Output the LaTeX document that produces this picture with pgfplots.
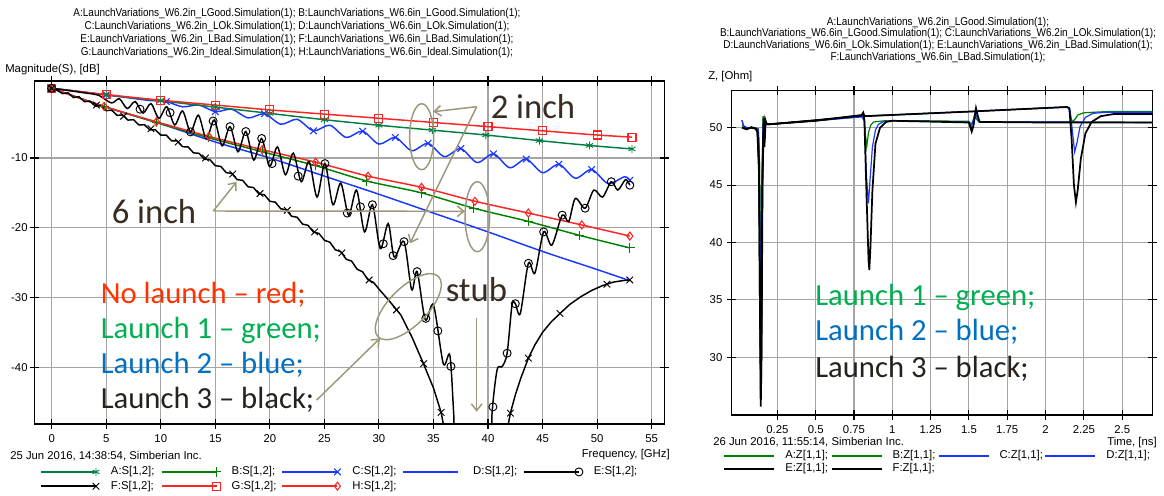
\documentclass[border=0pt]{standalone}
\usepackage{graphicx}
\usepackage{pgfplots}
\pgfplotsset{compat=1.18}
\usepackage{fontspec}
\setmainfont{Liberation Sans}
\newfontfamily\calib{Carlito}
\usetikzlibrary{arrows.meta}
\definecolor{cA}{RGB}{0,128,64}
\definecolor{cB}{RGB}{0,128,0}
\definecolor{cBlue}{RGB}{25,55,255}
\definecolor{cRed}{RGB}{255,35,35}
\definecolor{annot}{RGB}{157,151,122}
\definecolor{txtred}{RGB}{255,51,0}
\definecolor{txtgreen}{RGB}{0,176,80}
\definecolor{txtblue}{RGB}{0,112,192}
\definecolor{txtblack}{RGB}{38,33,28}
\definecolor{txtdark}{RGB}{55,45,35}
\definecolor{gridc}{RGB}{165,165,165}
\newcommand\sm{\fontsize{8.5}{10}\selectfont}
\newcommand\ttl[1]{\sm\scalebox{0.88}[1]{#1}}
\newcommand\annbig{\calib\fontsize{26}{30}\selectfont}
\newcommand\lau{\calib\fontsize{23}{27}\selectfont}
\begin{document}
\begin{tikzpicture}
\useasboundingbox (0,0) rectangle (873pt,-372pt);
% ---------------- left chart ----------------
\begin{axis}[
  at={(25.725pt,-318pt)}, anchor=south west,
  scale only axis, width=472.5pt, height=257.25pt,
  xmin=-1.595, xmax=56.16, ymin=-48.16, ymax=1.05,
  xtick={0,5,10,15,20,25,30,35,40,45,50,55},
  xticklabels={0,5,10,15,20,25,30,35,40,45,50,55},
  ytick={-40,-30,-20,-10}, yticklabels={-40,-30,-20,-10},
  grid=major, major grid style={gridc, line width=0.8pt},
  axis line style={black, line width=0.9pt},
  tick style={black, line width=0.8pt}, tick align=center, major tick length=7pt,
  tick label style={font=\sm},
  xticklabel style={yshift=-1pt},
  yticklabel style={xshift=2pt},
  legend columns=5,
  legend style={at={(axis description cs:0.009,-0.1224)}, anchor=north west, draw=none, fill=none,
     inner sep=0pt, font=\sm, row sep=2.2pt, column sep=0pt,
     nodes={inner sep=0pt, text width=37.5pt, text height=6.5pt, text depth=2pt, anchor=west, align=left}},
  legend image code/.code={\path[draw=none,fill=none] (0pt,-2pt) rectangle (52.5pt,2pt); \draw[#1,mark=none] (0pt,0pt) -- (41.25pt,0pt); \draw[#1] plot coordinates {(41.25pt,0pt)};},
]
\addlegendimage{cA, line width=1.1pt, mark=asterisk, mark size=3pt, mark options={solid,line width=0.7pt}}
\addlegendentry{A:S[1,2];}
\addlegendimage{cB, line width=1.1pt, mark=+, mark size=3.5pt, mark options={solid,line width=0.7pt}}
\addlegendentry{B:S[1,2];}
\addlegendimage{cBlue, line width=1.1pt, mark=x, mark size=3.5pt, mark options={solid,line width=0.8pt}}
\addlegendentry{C:S[1,2];}
\addlegendimage{cBlue, line width=1.1pt}
\addlegendentry{D:S[1,2];}
\addlegendimage{black, line width=1.1pt, mark=o, mark size=3pt, mark options={solid,line width=0.7pt}}
\addlegendentry{E:S[1,2];}
\addlegendimage{black, line width=1.1pt, mark=x, mark size=3.5pt, mark options={solid,line width=0.7pt}}
\addlegendentry{F:S[1,2];}
\addlegendimage{cRed, line width=1.1pt, mark=square, mark size=3pt, mark options={solid,line width=0.8pt}}
\addlegendentry{G:S[1,2];}
\addlegendimage{cRed, line width=1.1pt, mark=diamond, mark size=3pt, mark options={solid,line width=0.8pt}}
\addlegendentry{H:S[1,2];}
% C : 2 inch, launch ok (blue, wavy)
\addplot[cBlue, line width=1.1pt, smooth, forget plot] coordinates {
(0,0) (2.5,-0.45) (5,-0.95) (7.5,-1.45) (9,-1.75) (10.5,-1.9) (12,-2.65) (13.5,-2.4) (15,-3.35)
(16.5,-3.0) (18,-4.25) (19.5,-3.65) (21,-5.15) (22.5,-4.45) (24,-6.1) (25.5,-5.3) (27,-7.05)
(28.5,-6.15) (30,-8.0) (31.5,-7.05) (33,-8.95) (34.5,-7.9) (36,-9.8) (37.5,-8.65) (39,-10.65)
(40.5,-9.4) (42,-11.4) (43.5,-10.15) (45,-12.1) (46.5,-10.9) (48,-12.9) (49.5,-11.65) (51,-13.65)
(52.5,-12.7) (53,-13.2)};
\addplot[cBlue, only marks, mark=x, mark size=3.5pt, mark options={line width=0.8pt}, forget plot] coordinates {
(0,0) (5,-0.95) (10.5,-1.9) (15,-3.35) (19.5,-3.65) (24,-6.1) (28.5,-6.15) (31.5,-7.05) (34.5,-7.9)
(37.5,-8.65) (40.5,-9.4) (43.5,-10.15) (46.5,-10.9) (49.5,-11.65) (53,-13.2)};
% D : 6 inch, launch ok (blue)
\addplot[cBlue, line width=1.1pt, smooth, forget plot] coordinates {
(0,0) (5,-2.7) (10,-5.1) (15,-7.7) (20,-10.0) (25,-12.6) (30,-15.2) (35,-17.9) (40,-20.6)
(45,-23.4) (50,-26.0) (53,-27.6)};
% A : 2 inch, good launch (green, asterisk)
\addplot[cA, line width=1.1pt, smooth, mark=asterisk, mark size=3pt, mark options={solid,line width=0.7pt}, forget plot] coordinates {
(0,0) (5,-0.95) (10,-1.8) (15,-2.7) (20,-3.6) (25,-4.5) (30,-5.3) (34.9,-6.0) (39.8,-6.7)
(44.7,-7.5) (49.3,-8.2) (53.2,-8.7)};
% B : 6 inch, good launch (green, plus)
\addplot[cB, line width=1.1pt, smooth, mark=+, mark size=3.5pt, mark options={solid,line width=0.7pt}, forget plot] coordinates {
(0,0) (4.8,-2.6) (9.6,-4.9) (14.4,-7.1) (19.3,-9.1) (24.2,-11.1) (28.9,-13.3) (33.9,-15.0)
(38.7,-17.2) (43.7,-19.1) (48.4,-21.1) (53,-22.9)};
% G : 2 inch, ideal (red, square)
\addplot[cRed, line width=1.1pt, smooth, mark=square, mark size=3pt, mark options={solid,line width=0.8pt}, forget plot] coordinates {
(0,0) (5,-0.9) (10,-1.7) (15,-2.4) (20,-3.1) (25,-3.7) (30,-4.3) (35,-4.9) (40,-5.5)
(45,-6.1) (50,-6.7) (53.2,-7.0)};
% H : 6 inch, ideal (red, diamond)
\addplot[cRed, line width=1.1pt, smooth, mark=diamond, mark size=3pt, mark options={solid,line width=0.8pt}, forget plot] coordinates {
(0,0) (4.8,-2.6) (9.6,-4.8) (14.4,-6.9) (19.3,-8.8) (24.2,-10.6) (29,-12.6) (33.9,-14.2)
(38.8,-16.2) (43.7,-17.9) (48.6,-19.6) (53,-21.2)};
% F : 6 inch, bad launch (black, x)
\addplot[black, line width=1.1pt, forget plot] coordinates {
(0,0) (0.5,-0.28) (1.0,-0.76) (1.5,-0.64) (2.0,-1.32) (2.5,-1.2) (3.0,-1.92) (3.5,-1.84)
(4.0,-2.56) (4.5,-2.48) (5.0,-3.2) (5.5,-3.14) (6.0,-3.88) (6.5,-3.82) (7.0,-4.56) (7.5,-4.5)
(8.0,-5.26) (8.5,-5.22) (9.0,-5.98) (9.5,-5.94) (10,-6.7) (10.5,-6.72) (11,-7.54) (11.5,-7.56)
(12,-8.38) (12.5,-8.4) (13,-9.26) (13.5,-9.32) (14,-10.18) (14.5,-10.24) (15,-11.1) (15.5,-11.2)
(16,-12.1) (16.5,-12.2) (17,-13.1) (17.5,-13.2) (18,-14.12) (18.5,-14.24) (19,-15.16) (19.5,-15.28)
(20,-16.2) (20.5,-16.34) (21,-17.28) (21.5,-17.42) (22,-18.36) (22.5,-18.5) (23,-19.48) (23.5,-19.66)
(24,-20.64) (24.5,-20.82) (25,-21.8) (25.5,-22.08) (26,-23.16) (26.5,-23.44) (27,-24.52) (27.5,-24.8)
(28,-25.96) (28.5,-26.32) (29,-27.48) (29.5,-27.84) (30,-28.8) (31,-30.6) (32,-32.5) (33,-35.6)
(34,-39.2) (35,-43.0) (35.7,-46.5) (36.5,-53) (41.3,-53) (41.7,-49.5) (42.05,-46.6) (42.5,-44.0)
(43.0,-41.6) (43.7,-38.7) (44.3,-36.8) (45.0,-35.0) (45.8,-33.5) (46.6,-32.3) (47.5,-31.0)
(48.5,-29.9) (49.5,-29.0) (50.5,-28.3) (51.5,-27.8) (52.3,-27.6) (53,-27.5)};
\addplot[black, only marks, mark=x, mark size=3.5pt, mark options={line width=0.7pt}, forget plot] coordinates {
(0,0) (4.1,-2.4) (6.6,-4.0) (9.1,-5.8) (11.6,-7.7) (14.1,-10.0) (16.6,-12.3) (19.1,-15.1) (21.6,-17.5)
(24.1,-20.6) (26.6,-23.6) (29.1,-27.5) (31.6,-31.8) (34.1,-39.5) (35.7,-46.5) (42.05,-46.6)
(43.7,-38.7) (46.6,-32.3) (50.9,-28.1) (53,-27.5)};
% E : 2 inch, bad launch (black, circles)
\addplot[black, line width=1.1pt, smooth, forget plot] coordinates {
(0,0) (1.5,-0.3) (3,-0.65) (4.3,-1.0) (5.475,-2.1) (6.2,-1.5) (6.925,-2.9) (7.65,-1.9)
(8.375,-3.55) (9.1,-2.2) (9.825,-4.3) (10.55,-2.65) (11.275,-5.25) (12.0,-3.25) (12.725,-6.25)
(13.45,-3.85) (14.175,-7.25) (14.9,-4.55) (15.625,-8.25) (16.35,-5.5) (17.075,-9.1) (17.8,-6.2)
(18.525,-10.3) (19.25,-7.2) (19.975,-11.2) (20.7,-8.4) (21.425,-12.4) (22.15,-9.3) (22.875,-13.4)
(23.6,-10.5) (24.325,-15.6) (25.05,-10.8) (25.775,-16.7) (26.5,-13.6) (27.225,-18.2) (27.95,-14.6)
(28.675,-20.6) (29.4,-16.7) (30.125,-23.0) (30.85,-19.4) (31.4,-24.2) (32.3,-22.0) (33.0,-28.9)
(33.5,-26.3) (34.25,-33.2) (35.0,-31.1) (35.9,-39.5) (36.5,-38.3) (36.85,-46.6) (37.2,-56)
(40.1,-56) (40.37,-46.6) (40.83,-40.4) (41.3,-39.9) (41.75,-38.0) (42.2,-31.1) (42.5,-30.9)
(42.96,-32.3) (43.7,-25.1) (44.3,-26.5) (45.1,-20.6) (45.85,-22.5) (46.8,-18.2) (47.4,-19.1)
(48.0,-15.8) (48.9,-17.2) (49.7,-14.6) (50.5,-15.6) (51.3,-13.4) (51.9,-14.6) (52.6,-13.1) (53.0,-13.9)};
\addplot[black, only marks, mark=o, mark size=3pt, mark options={line width=0.7pt}, forget plot] coordinates {
(0,0) (8.1,-3.0) (10.85,-3.5) (12.725,-6.25) (14.8,-4.7) (16.35,-5.5) (17.8,-6.2) (19.25,-7.2)
(20.2,-10.8) (22.6,-12.6) (25.05,-10.8) (27.1,-17.9) (28.3,-17.0) (29.4,-16.7) (30.4,-22.3)
(31.3,-24.0) (32.3,-22.0) (33.5,-26.3) (34.3,-33.0) (35.4,-34.8) (36.6,-39.9) (40.45,-45.7)
(41.75,-38.0) (42.5,-30.9) (43.7,-25.1) (45.1,-20.6) (46.8,-18.2) (48.9,-17.2) (51.3,-13.4) (53,-13.9)};
\end{axis}
% ---------------- right chart ----------------
\begin{axis}[
  at={(548.775pt,-311.25pt)}, anchor=south west,
  scale only axis, width=315.75pt, height=243.225pt,
  xmin=-0.048, xmax=2.699, ymin=24.97, ymax=53.22,
  xtick={0.25,0.5,0.75,1,1.25,1.5,1.75,2,2.25,2.5},
  xticklabels={0.25,0.5,0.75,1,1.25,1.5,1.75,2,2.25,2.5},
  ytick={30,35,40,45,50}, yticklabels={30,35,40,45,50},
  grid=major, major grid style={gridc, line width=0.8pt},
  axis line style={black, line width=0.9pt},
  tick style={black, line width=0.8pt}, tick align=center, major tick length=7pt,
  tick label style={font=\sm},
  xticklabel style={yshift=-1pt},
  legend columns=4,
  legend style={at={(axis description cs:-0.0207,-0.108)}, anchor=north west, draw=none, fill=none,
     inner sep=0pt, font=\sm, row sep=0.95pt, column sep=0pt,
     nodes={inner sep=0pt, text width=34pt, text height=6.5pt, text depth=2pt, anchor=west, align=left}},
  legend image code/.code={\path[draw=none,fill=none] (0pt,-2pt) rectangle (45.75pt,2pt); \draw[#1] (0pt,0pt) -- (37.5pt,0pt);},
]
\addlegendimage{cB, line width=0.9pt}\addlegendentry{A:Z[1,1];}
\addlegendimage{cB, line width=0.9pt}\addlegendentry{B:Z[1,1];}
\addlegendimage{cBlue, line width=0.9pt}\addlegendentry{C:Z[1,1];}
\addlegendimage{cBlue, line width=0.9pt}\addlegendentry{D:Z[1,1];}
\addlegendimage{black, line width=1.5pt}\addlegendentry{E:Z[1,1];}
\addlegendimage{black, line width=1.5pt}\addlegendentry{F:Z[1,1];}
\addplot[cB, line width=0.9pt, forget plot] coordinates {
(0.02,50.2) (0.04,50.0) (0.1,50.0) (0.125,49.9) (0.132,48) (0.138,40) (0.142,34.5) (0.147,40)
(0.152,47) (0.157,51.0) (0.163,50.2) (0.175,50.4) (0.2,50.3) (0.5,50.6) (0.8,50.95) (0.815,50.9)
(0.823,49.6) (0.833,48.35) (0.845,49.6) (0.86,50.25) (0.88,50.5) (0.95,50.6) (1.2,50.6) (1.5,50.55)
(1.515,50.3) (1.54,50.9) (1.565,50.5) (2.0,50.5) (2.7,50.45)};
\addplot[cB, line width=0.9pt, forget plot] coordinates {
(0.02,50.2) (0.04,50.0) (0.1,50.0) (0.125,49.9) (0.132,48) (0.138,40) (0.142,34.5) (0.147,40)
(0.152,47) (0.157,51.0) (0.163,50.2) (0.175,50.4) (0.2,50.3) (0.5,50.65) (0.8,51.0) (1.5,51.4)
(2.14,51.8) (2.155,51.7) (2.165,50.9) (2.175,50.5) (2.19,50.7) (2.21,51.1) (2.25,51.3) (2.4,51.4) (2.7,51.4)};
\addplot[cBlue, line width=0.9pt, forget plot] coordinates {
(0.018,50.65) (0.03,50.15) (0.05,50.0) (0.1,50.0) (0.125,49.8) (0.132,46) (0.138,37) (0.142,33.8)
(0.147,38) (0.152,46) (0.157,50.2) (0.163,50.7) (0.175,50.3) (0.2,50.3) (0.5,50.6) (0.8,50.95)
(0.818,50.6) (0.83,46) (0.844,43.4) (0.855,45.5) (0.87,48.3) (0.89,49.8) (0.91,50.3) (0.94,50.5)
(1.0,50.6) (1.5,50.5) (1.515,50.0) (1.54,51.3) (1.565,50.5) (2.0,50.5) (2.7,50.45)};
\addplot[cBlue, line width=0.9pt, forget plot] coordinates {
(0.018,50.65) (0.03,50.15) (0.05,50.0) (0.1,50.0) (0.125,49.8) (0.132,46) (0.138,37) (0.142,33.8)
(0.147,38) (0.152,46) (0.157,50.2) (0.163,50.7) (0.175,50.3) (0.2,50.3) (0.5,50.65) (0.8,51.0)
(1.5,51.4) (2.14,51.8) (2.16,51.5) (2.175,49.7) (2.19,47.9) (2.205,48.7) (2.225,50.1) (2.26,50.9)
(2.31,51.25) (2.4,51.35) (2.7,51.35)};
\addplot[black, line width=1.3pt, forget plot] coordinates {
(0.02,50.0) (0.05,49.85) (0.08,50.05) (0.11,49.9) (0.12,49.6) (0.13,47) (0.136,35) (0.141,25.7)
(0.146,30) (0.151,44) (0.156,48.3) (0.161,50.8) (0.166,48.3) (0.171,50.7) (0.18,50.3) (0.2,50.3)
(0.5,50.6) (0.8,51.1) (0.81,51.3) (0.818,50.6) (0.832,44) (0.845,38.4) (0.85,37.6) (0.857,39.5)
(0.87,44.5) (0.89,48.6) (0.92,50.0) (0.96,50.5) (1.0,50.6) (1.5,50.45) (1.518,49.65) (1.53,50.2)
(1.546,51.7) (1.558,51.0) (1.57,50.5) (2.0,50.45) (2.7,50.45)};
\addplot[black, line width=1.3pt, forget plot] coordinates {
(0.02,50.0) (0.05,49.9) (0.08,50.0) (0.11,49.9) (0.12,49.6) (0.13,46) (0.137,33) (0.143,26.3)
(0.148,33) (0.153,45) (0.158,48.5) (0.163,50.6) (0.168,49) (0.173,50.5) (0.18,50.3) (0.2,50.3)
(0.5,50.65) (0.8,51.05) (0.81,51.25) (0.82,51.0) (1.5,51.4) (2.14,51.8) (2.155,51.7) (2.17,49)
(2.185,45) (2.198,43.5) (2.21,44.6) (2.23,47.3) (2.26,49.5) (2.3,50.5) (2.36,51.0) (2.45,51.2) (2.7,51.2)};
\end{axis}
% ---------------- texts and annotations (pixel coordinates) ----------------
\begin{scope}[x=0.75pt,y=-0.75pt]
\node[anchor=base, inner sep=0] at (297,16.8) {\ttl{A:LaunchVariations\_W6.2in\_LGood.Simulation(1); B:LaunchVariations\_W6.6in\_LGood.Simulation(1);}};
\node[anchor=base, inner sep=0] at (297,29.7) {\ttl{C:LaunchVariations\_W6.2in\_LOk.Simulation(1); D:LaunchVariations\_W6.6in\_LOk.Simulation(1);}};
\node[anchor=base, inner sep=0] at (297,42.6) {\ttl{E:LaunchVariations\_W6.2in\_LBad.Simulation(1); F:LaunchVariations\_W6.6in\_LBad.Simulation(1);}};
\node[anchor=base, inner sep=0] at (297,55.5) {\ttl{G:LaunchVariations\_W6.2in\_Ideal.Simulation(1); H:LaunchVariations\_W6.6in\_Ideal.Simulation(1);}};
\node[anchor=base west, inner sep=0] at (5,72.3) {\sm Magnitude(S), [dB]};
\node[anchor=base west, inner sep=0] at (10,459) {\sm 25 Jun 2016, 14:38:54, Simberian Inc.};
\node[anchor=base east, inner sep=0] at (670,457) {\sm Frequency, [GHz]};
\node[anchor=base, inner sep=0] at (938,25.2) {\ttl{A:LaunchVariations\_W6.2in\_LGood.Simulation(1);}};
\node[anchor=base, inner sep=0] at (938,36.9) {\ttl{B:LaunchVariations\_W6.6in\_LGood.Simulation(1); C:LaunchVariations\_W6.2in\_LOk.Simulation(1);}};
\node[anchor=base, inner sep=0] at (938,48.6) {\ttl{D:LaunchVariations\_W6.6in\_LOk.Simulation(1); E:LaunchVariations\_W6.2in\_LBad.Simulation(1);}};
\node[anchor=base, inner sep=0] at (938,60.3) {\ttl{F:LaunchVariations\_W6.6in\_LBad.Simulation(1);}};
\node[anchor=base west, inner sep=0] at (708,79) {\sm Z, [Ohm]};
\node[anchor=base west, inner sep=0] at (713,445.5) {\sm 26 Jun 2016, 11:55:14, Simberian Inc.};
\node[anchor=base east, inner sep=0] at (1157,445.5) {\sm Time, [ns]};
% annotations left
\begin{scope}[annot, line width=1.1pt]
\draw (421.7,136.7) ellipse [x radius=9pt, y radius=24.75pt];
\draw (477.3,216.7) ellipse [x radius=9.2pt, y radius=26.25pt];
\draw (408.3,306.7) ellipse [x radius=32pt, y radius=14.25pt, rotate=45];
\draw[-{Straight Barb[length=5pt,width=8pt]}] (476.7,106.7) -- (433.3,111.7);
\draw[-{Straight Barb[length=5pt,width=8pt]}] (476.7,106.7) -- (410,243.3);
\draw[-{Straight Barb[length=5pt,width=8pt]}] (213.3,211) -- (236.7,181.7);
\draw[-{Straight Barb[length=5pt,width=8pt]}] (213.3,211) -- (465,211.3);
\draw[-{Straight Barb[length=5pt,width=8pt]}] (316.7,400) -- (380,338.3);
\draw[-{Straight Barb[length=5pt,width=8pt]}] (476.7,318.3) -- (476.7,411.7);
\end{scope}
\node[anchor=base west, inner sep=0, text=txtdark] at (490.5,118) {\annbig 2 inch};
\node[anchor=base west, inner sep=0, text=txtdark] at (111.5,223.3) {\annbig 6 inch};
\node[anchor=base west, inner sep=0, text=txtdark] at (445.5,301.7) {\annbig stub};
\node[anchor=base west, inner sep=0, text=txtred] at (100.5,303.3) {\lau No launch – red;};
\node[anchor=base west, inner sep=0, text=txtgreen] at (100.5,338.3) {\lau Launch 1 – green;};
\node[anchor=base west, inner sep=0, text=txtblue] at (100.5,373.3) {\lau Launch 2 – blue;};
\node[anchor=base west, inner sep=0, text=txtblack] at (100.5,408.3) {\lau Launch 3 – black;};
\node[anchor=base west, inner sep=0, text=txtgreen] at (815,305) {\lau Launch 1 – green;};
\node[anchor=base west, inner sep=0, text=txtblue] at (815,340) {\lau Launch 2 – blue;};
\node[anchor=base west, inner sep=0, text=txtblack] at (815,377) {\lau Launch 3 – black;};
\end{scope}
\end{tikzpicture}
\end{document}
